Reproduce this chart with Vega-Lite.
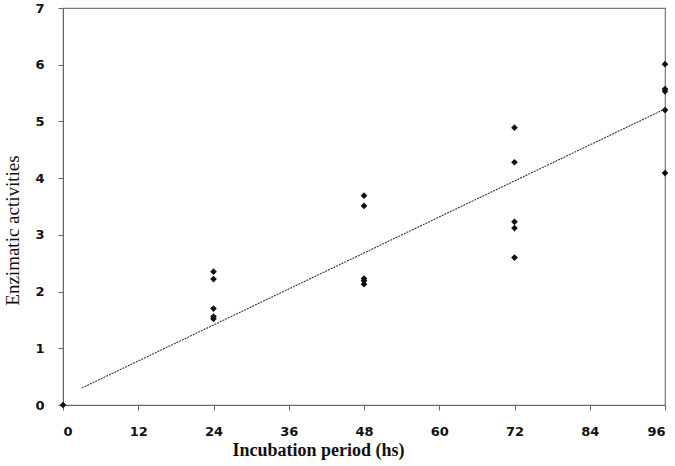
{
  "$schema": "https://vega.github.io/schema/vega-lite/v6.json",
  "width": 602,
  "height": 397,
  "autosize": {"type": "none"},
  "padding": {"left": 63, "top": 8, "right": 10, "bottom": 61},
  "background": "white",
  "config": {
    "view": {"stroke": "#777", "strokeWidth": 1.2},
    "axis": {"grid": false, "domainColor": "#666", "tickColor": "#666", "labelFont": "DejaVu Sans", "labelFontWeight": "bold", "labelFontSize": 13, "labelColor": "#111", "titleFont": "Liberation Serif", "titleColor": "#111"}
  },
  "layer": [
    {
      "data": {"values": [
        {"x": 0, "y": 0},
        {"x": 24, "y": 2.35}, {"x": 24, "y": 2.22}, {"x": 24, "y": 1.70}, {"x": 24, "y": 1.56}, {"x": 24, "y": 1.52},
        {"x": 48, "y": 3.69}, {"x": 48, "y": 3.51}, {"x": 48, "y": 2.23}, {"x": 48, "y": 2.19}, {"x": 48, "y": 2.13},
        {"x": 72, "y": 4.89}, {"x": 72, "y": 4.28}, {"x": 72, "y": 3.23}, {"x": 72, "y": 3.12}, {"x": 72, "y": 2.60},
        {"x": 96, "y": 6.01}, {"x": 96, "y": 5.57}, {"x": 96, "y": 5.53}, {"x": 96, "y": 5.20}, {"x": 96, "y": 4.09}
      ]},
      "mark": {"type": "point", "shape": "diamond", "filled": true, "color": "#111", "size": 45, "opacity": 1},
      "encoding": {
        "x": {"field": "x", "type": "quantitative", "scale": {"domain": [0, 96], "nice": false, "zero": true},
          "axis": {"values": [0, 12, 24, 36, 48, 60, 72, 84, 96], "format": "d", "title": "Incubation period (hs)", "titleFontWeight": "bold", "titleFontSize": 18, "titleX": 255, "titlePadding": 3, "tickSize": 5, "labelPadding": 15}},
        "y": {"field": "y", "type": "quantitative", "scale": {"domain": [0, 7], "nice": false},
          "axis": {"values": [0, 1, 2, 3, 4, 5, 6, 7], "format": "d", "title": "Enzimatic activities", "titleFontWeight": "normal", "titleFontSize": 19, "titleY": 222, "titlePadding": 12, "tickSize": 5, "labelPadding": 14}}
      }
    },
    {
      "data": {"values": [{"x": 3, "y": 0.3}, {"x": 96, "y": 5.22}]},
      "mark": {"type": "line", "color": "#333", "strokeWidth": 1.1, "strokeDash": [2, 1]},
      "encoding": {
        "x": {"field": "x", "type": "quantitative"},
        "y": {"field": "y", "type": "quantitative"}
      }
    }
  ]
}
